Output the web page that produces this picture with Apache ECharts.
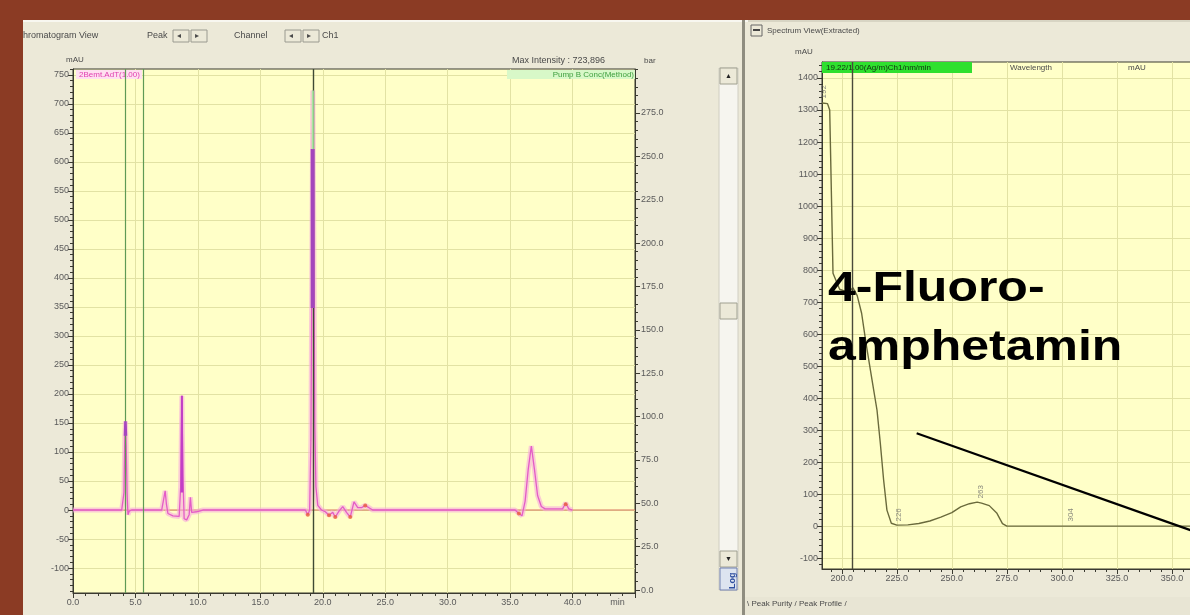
<!DOCTYPE html>
<html><head><meta charset="utf-8">
<script src="https://cdn.jsdelivr.net/npm/echarts@6/dist/echarts.min.js"></script>
<style>html,body{margin:0;padding:0;background:#8b3b24;}#c{width:1190px;height:615px;}</style>
</head><body><div id="c"></div>
<script>
// ---------- Chromatogram (left panel) ----------
const chromTime  = [0,3.9,4.0,4.08,4.15,4.2,4.26,4.33,4.4,4.5,4.7,7.1,7.25,7.38,7.48,7.6,8.0,8.5,8.62,8.72,8.8,8.9,9.1,9.3,9.4,9.5,9.9,10.4,18.6,18.8,18.95,19.05,19.12,19.2,19.28,19.36,19.45,19.6,19.9,20.2,20.5,20.8,21.0,21.3,21.6,21.9,22.2,22.5,22.8,23.1,23.4,23.7,24.0,35.4,35.7,35.95,36.2,36.45,36.7,36.95,37.2,37.5,37.8,39.2,39.45,39.7,40.0,45];
const chromValue = [0,0,-3,30,127,153,110,30,-8,-2,0,0,3,33,10,-6,-10,-11,40,197,60,-15,-17,-8,22,-4,-3,0,0,-8,0,120,400,723,480,150,40,8,0,-3,-9,-4,-12,-2,6,-4,-12,14,4,4,8,4,0,0,-6,-10,15,70,110,70,25,6,2,2,12,2,0];
const baselineTime  = [0, 45];
const baselineValue = [0, 0];
const purpleTime1 = [4.16, 4.2, 4.24];   const purpleValue1 = [128, 153, 128];
const purpleTime2 = [19.19, 19.19];      const purpleValue2 = [348, 622];
const purpleTime3 = [8.68, 8.72, 8.76];  const purpleValue3 = [30, 197, 30];
const peakTopTime = [19.2, 19.2];        const peakTopValue = [622, 723];
const markerTimes = [4.15, 5.6];
const cursorTime = 19.2;
const intMarkTime  = [18.8, 20.5, 21.0, 22.2, 23.4, 35.7, 39.45];
const intMarkValue = [-8, -9, -12, -12, 8, -6, 10];
const chromXTicks = [0, 5, 10, 15, 20, 25, 30, 35, 40];
const chromXUnitPos = 43.6;
const chromYTicks = [-100, -50, 0, 50, 100, 150, 200, 250, 300, 350, 400, 450, 500, 550, 600, 650, 700, 750];
const pumpTicks = [0, 25, 50, 75, 100, 125, 150, 175, 200, 225, 250, 275];

// ---------- Spectrum (right panel) ----------
const specWl  = [191, 193.5, 194.5, 196, 199, 203, 205, 207, 209, 211, 213.5, 216, 217.5, 219, 220.5, 222.5, 225, 230, 235, 240, 245, 250, 254, 258, 261.5, 263.5, 267, 270.5, 273, 275, 300, 350, 400, 450];
const specAbs = [1322, 1320, 1300, 790, 740, 730, 745, 720, 665, 572, 466, 362, 259, 144, 50, 9, 3, 4, 8, 16, 28, 42, 60, 70, 75, 72, 64, 40, 8, 0, 0, 0, 0, 0];
const peakWl  = [192, 226, 263, 304];
const peakAbs = [1330, 8, 80, 8];
const specCursorWl = 204.6;
const pointerFrom = [234, 290];
const pointerTo   = [380, -65];
const specXTicks = [200, 225, 250, 275, 300, 325, 350, 375, 400, 425];
const specYTicks = [-100, 0, 100, 200, 300, 400, 500, 600, 700, 800, 900, 1000, 1100, 1200, 1300, 1400];

const zip = (a, b) => a.map((v, i) => [v, b[i]]);
const steps = (a, b, s) => { const r = []; for (let v = a; v <= b + 1e-9; v += s) r.push(+v.toFixed(6)); return r; };

const AX = '#3a3a30', GRIDC = '#e2e2a4', LBL = '#5a5a5a', FONT = 'Liberation Sans';
const lblStyle = { fontSize: 9, color: LBL, fontFamily: FONT };

function majorAxis(extra) {
  return Object.assign({
    type: 'value', axisLine: { show: true, onZero: false, lineStyle: { color: AX } },
    axisTick: { show: true, length: 5, lineStyle: { color: AX } },
    splitLine: { show: true, lineStyle: { color: GRIDC, width: 1 } }
  }, extra);
}
function minorAxis(extra, ticks) {
  return Object.assign({
    type: 'value', axisLine: { show: false, onZero: false },
    axisTick: { show: true, length: 3, customValues: ticks, lineStyle: { color: AX } },
    axisLabel: { show: false }, splitLine: { show: false }
  }, extra);
}

const chart = echarts.init(document.getElementById('c'), null, { renderer: 'canvas' });

const txt = (x, y, text, o) => ({ type: 'text', x, y, z: 5, style: Object.assign({ text, font: '9px "Liberation Sans"', fill: '#4a4a4a', verticalAlign: 'middle' }, o || {}) });
const rect = (x, y, w, h, fill, stroke, z) => ({ type: 'rect', z: z === undefined ? -10 : z, shape: { x, y, width: w, height: h }, style: { fill, stroke: stroke || null, lineWidth: 1 } });

const option = {
  backgroundColor: '#8b3b24',
  animation: false,
  grid: [
    { left: 73, top: 69, width: 562, height: 524, show: true, backgroundColor: '#ffffc8', borderColor: AX, borderWidth: 1, containLabel: false, outerBoundsMode: 'none' },
    { left: 822, top: 62, width: 570, height: 507, show: true, backgroundColor: '#ffffc8', borderColor: AX, borderWidth: 1, containLabel: false, outerBoundsMode: 'none' }
  ],
  xAxis: [
    majorAxis({ gridIndex: 0, position: 'bottom', min: 0, max: 45,
      axisTick: { show: true, length: 5, customValues: chromXTicks.concat([45]), lineStyle: { color: AX } },
      axisLabel: Object.assign({ customValues: chromXTicks.concat([chromXUnitPos]), margin: 5,
        formatter: v => Math.abs(v - chromXUnitPos) < 1e-6 ? 'min' : v.toFixed(1) }, lblStyle) }),
    minorAxis({ gridIndex: 0, position: 'bottom', min: 0, max: 45 }, steps(0, 45, 1)),
    majorAxis({ gridIndex: 1, position: 'bottom', min: 191, max: 450,
      axisTick: { show: true, length: 5, customValues: specXTicks, lineStyle: { color: AX } },
      axisLabel: Object.assign({ customValues: specXTicks, margin: 5, formatter: v => v.toFixed(1) }, lblStyle) }),
    minorAxis({ gridIndex: 1, position: 'bottom', min: 191, max: 450 }, steps(195, 450, 5))
  ],
  yAxis: [
    majorAxis({ gridIndex: 0, position: 'left', min: -143, max: 760,
      axisTick: { show: true, length: 5, customValues: chromYTicks, lineStyle: { color: AX } },
      axisLabel: Object.assign({ customValues: chromYTicks, margin: 4, formatter: v => String(v) }, lblStyle) }),
    minorAxis({ gridIndex: 0, position: 'left', min: -143, max: 760 }, steps(-140, 760, 10)),
    majorAxis({ gridIndex: 0, position: 'right', min: -1.7, max: 300.3, splitLine: { show: false },
      axisTick: { show: true, length: 5, customValues: pumpTicks, lineStyle: { color: AX } },
      axisLabel: Object.assign({ customValues: pumpTicks, margin: 6, formatter: v => v.toFixed(1) }, lblStyle) }),
    minorAxis({ gridIndex: 0, position: 'right', min: -1.7, max: 300.3 }, steps(0, 300, 5)),
    majorAxis({ gridIndex: 1, position: 'left', min: -134, max: 1450,
      axisTick: { show: true, length: 5, customValues: specYTicks, lineStyle: { color: AX } },
      axisLabel: Object.assign({ customValues: specYTicks, margin: 4, formatter: v => String(v) }, lblStyle) }),
    minorAxis({ gridIndex: 1, position: 'left', min: -134, max: 1450 }, steps(-120, 1440, 20))
  ],
  series: [
    { type: 'line', xAxisIndex: 0, yAxisIndex: 0, data: zip(baselineTime, baselineValue), symbol: 'none', silent: true,
      lineStyle: { color: '#d9765e', width: 1.2 }, z: 2,
      markLine: { silent: true, symbol: 'none', label: { show: false },
        data: [
          { xAxis: markerTimes[0], lineStyle: { color: '#5f9a55', width: 1.2, type: 'solid' } },
          { xAxis: markerTimes[1], lineStyle: { color: '#5f9a55', width: 1.2, type: 'solid' } },
          { xAxis: cursorTime, lineStyle: { color: '#3f4a34', width: 1.4, type: 'solid' } }
        ] } },
    { type: 'line', xAxisIndex: 0, yAxisIndex: 0, data: zip(chromTime, chromValue), symbol: 'none', silent: true,
      lineStyle: { color: 'rgba(246,170,220,0.6)', width: 5 }, z: 3 },
    { type: 'line', xAxisIndex: 0, yAxisIndex: 0, data: zip(chromTime, chromValue), symbol: 'none', silent: true,
      lineStyle: { color: '#e45cc6', width: 1.3 }, z: 4 },
    { type: 'line', xAxisIndex: 0, yAxisIndex: 0, data: zip(purpleTime1, purpleValue1), symbol: 'none', silent: true,
      lineStyle: { color: '#a646c0', width: 2.5 }, z: 5 },
    { type: 'line', xAxisIndex: 0, yAxisIndex: 0, data: zip(purpleTime2, purpleValue2), symbol: 'none', silent: true,
      lineStyle: { color: '#a446bc', width: 4 }, z: 5 },
    { type: 'line', xAxisIndex: 0, yAxisIndex: 0, data: zip(purpleTime3, purpleValue3), symbol: 'none', silent: true,
      lineStyle: { color: '#c23fc6', width: 2 }, z: 5 },
    { type: 'line', xAxisIndex: 0, yAxisIndex: 0, data: zip(peakTopTime, peakTopValue), symbol: 'none', silent: true,
      lineStyle: { color: '#a8e8a0', width: 2 }, z: 5 },
    { type: 'scatter', xAxisIndex: 0, yAxisIndex: 0, data: zip(intMarkTime, intMarkValue), symbol: 'circle', symbolSize: 4, silent: true,
      itemStyle: { color: '#e8603a' }, z: 6 },
    { type: 'line', xAxisIndex: 2, yAxisIndex: 4, data: zip(specWl, specAbs), symbol: 'none', silent: true,
      lineStyle: { color: '#6a6a3c', width: 1.4 }, z: 4,
      markLine: { silent: true, symbol: 'none', label: { show: false },
        data: [
          { xAxis: specCursorWl, lineStyle: { color: '#4a4a3a', width: 1.4, type: 'solid' } },
          [ { coord: pointerFrom, lineStyle: { color: '#000', width: 2.2, type: 'solid' } }, { coord: pointerTo } ]
        ] } },
    { type: 'scatter', xAxisIndex: 2, yAxisIndex: 4, data: zip(peakWl, peakAbs), symbolSize: 0, silent: true, z: 6,
      label: { show: true, position: 'top', distance: 2, rotate: 90, align: 'left', verticalAlign: 'middle',
        formatter: p => String(p.value[0]), fontSize: 8, color: '#6a6a6a', fontFamily: FONT } }
  ],
  graphic: [
    // application window
    rect(23, 20, 1167, 595, '#ece9d8', null, -20),
    rect(23, 20, 1167, 2, '#f8f7f0', null, -19),
    rect(742, 20, 3, 595, '#8f8d80', null, -18),
    rect(748, 20, 442, 2, '#d8d5c4', null, -18),
    // left header
    txt(23, 36, 'hromatogram View'),
    txt(147, 36, 'Peak'),
    rect(173, 30, 16, 12, '#ece9d8', '#9a9a90', 1), txt(177, 36, '◂', { fontSize: 8 }),
    rect(191, 30, 16, 12, '#ece9d8', '#9a9a90', 1), txt(195, 36, '▸', { fontSize: 8 }),
    txt(234, 36, 'Channel'),
    rect(285, 30, 16, 12, '#ece9d8', '#9a9a90', 1), txt(289, 36, '◂', { fontSize: 8 }),
    rect(303, 30, 16, 12, '#ece9d8', '#9a9a90', 1), txt(307, 36, '▸', { fontSize: 8 }),
    txt(322, 36, 'Ch1'),
    txt(66, 60, 'mAU', { fontSize: 8 }),
    txt(512, 61, 'Max Intensity : 723,896', { fontSize: 9 }),
    txt(644, 61, 'bar', { fontSize: 8 }),
    rect(76, 70, 66, 9, '#ffe0f0', null, 5), txt(79, 75, '2Bemt.AdT(1.00)', { fontSize: 8, fill: '#e040b0' }),
    rect(507, 70, 128, 9, '#d8f8c8', null, 5), txt(634, 75, 'Pump B Conc(Method)', { fontSize: 8, fill: '#40a040', align: 'right' }),
    // scrollbar
    rect(719, 68, 19, 522, '#f6f5ef', '#d0cec2', -5),
    rect(720, 68, 17, 16, '#ece9d8', '#a0a090', 1), txt(725, 76, '▲', { fontSize: 7, fill: '#222' }),
    rect(720, 303, 17, 16, '#ece9d8', '#a0a090', 1),
    rect(720, 551, 17, 16, '#ece9d8', '#a0a090', 1), txt(725, 559, '▼', { fontSize: 7, fill: '#222' }),
    rect(720, 568, 17, 22, '#dde4f0', '#7080b0', 1),
    { type: 'text', x: 733, y: 589, rotation: Math.PI / 2, z: 6, style: { text: 'Log', font: 'bold 9px "Liberation Sans"', fill: '#3050a0', verticalAlign: 'middle' } },
    // right header
    rect(751, 25, 11, 11, '#ece9d8', '#666', 1), rect(753, 29, 7, 2, '#444', null, 2),
    txt(767, 31, 'Spectrum View(Extracted)', { fontSize: 8 }),
    txt(795, 52, 'mAU', { fontSize: 8 }),
    rect(822, 62, 150, 11, '#2fe02f', null, 5),
    txt(826, 68, '19.22/1.00(Ag/m)Ch1/nm/min', { fontSize: 8, fill: '#103010' }),
    txt(1010, 68, 'Wavelength', { fontSize: 8 }),
    txt(1128, 68, 'mAU', { fontSize: 8 }),
    rect(745, 597, 445, 18, '#e8e5d4', null, -5),
    txt(747, 604, '\\ Peak Purity / Peak Profile /', { fontSize: 8 }),
    // annotation text
    { type: 'text', x: 828, y: 289, scaleX: 1.19, z: 10, style: { text: '4-Fluoro-', font: 'bold 42px "Liberation Sans"', fill: '#000', verticalAlign: 'middle' } },
    { type: 'text', x: 828, y: 348, scaleX: 1.19, z: 10, style: { text: 'amphetamin', font: 'bold 42px "Liberation Sans"', fill: '#000', verticalAlign: 'middle' } }
  ]
};
chart.setOption(option);
</script></body></html>
